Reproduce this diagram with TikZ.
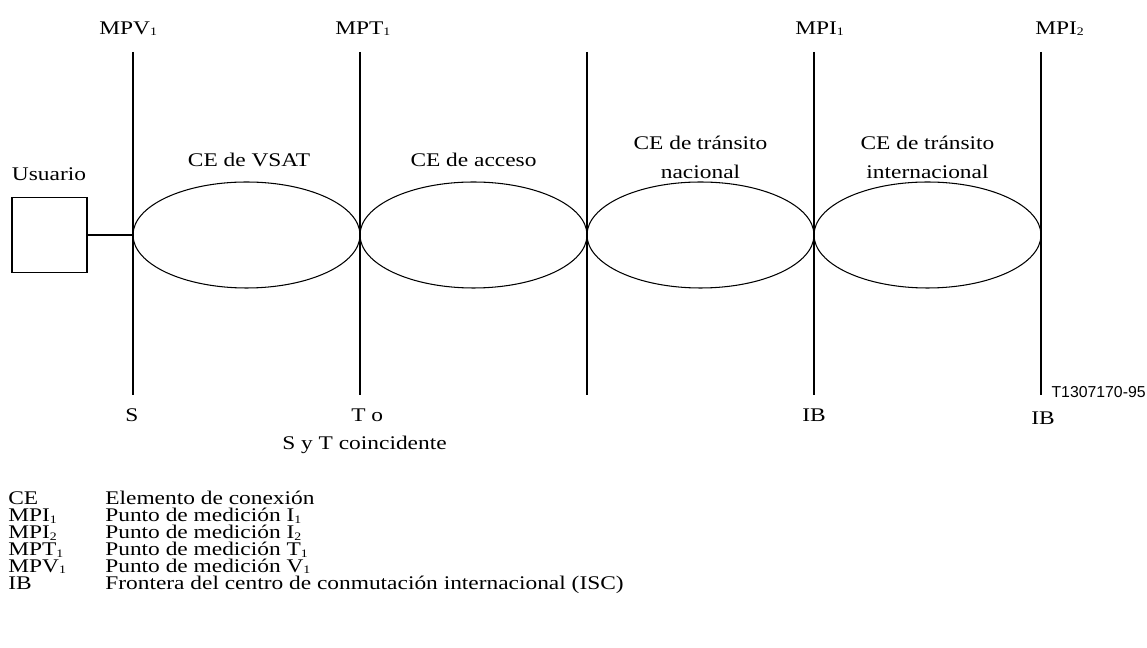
\documentclass[tikz,border=0pt]{standalone}
\usepackage{fontspec}
\setmainfont{Liberation Serif}[FakeStretch=1.21]
\newfontfamily\figcodefont{Liberation Sans}
\newcommand\subidx[1]{\raisebox{-0.15ex}{\fontsize{6.5}{7}\selectfont#1}}
\usetikzlibrary{shapes.geometric}
\tikzset{
  cebox/.style={draw, line width=0.6pt, ellipse, minimum width=4.54cm, minimum height=2.12cm, inner sep=0pt},
  mpline/.style={draw, line width=1.1pt},
  txt/.style={inner sep=0pt, font=\fontsize{11}{13}\selectfont},
}
\begin{document}
\begin{tikzpicture}
    \useasboundingbox (0,0) rectangle (22.94,12.96);
    % puntos de medicion
    \coordinate (mpv-t) at (2.66,11.92);  \coordinate (mpv-b) at (2.66,5.06);
    \coordinate (mpt-t) at (7.20,11.92);  \coordinate (mpt-b) at (7.20,5.06);
    \coordinate (mpn-t) at (11.74,11.92); \coordinate (mpn-b) at (11.74,5.06);
    \coordinate (mpi1-t) at (16.28,11.92); \coordinate (mpi1-b) at (16.28,5.06);
    \coordinate (mpi2-t) at (20.82,11.92); \coordinate (mpi2-b) at (20.82,5.06);
    \foreach \p in {mpv,mpt,mpn,mpi1,mpi2}
      \draw[mpline] (\p-t) -- (\p-b);
    \node[txt, anchor=base west] (mpv) at (1.98,12.27) {MPV\subidx{1}};
    \node[txt, anchor=base west] (mpt) at (6.70,12.27) {MPT\subidx{1}};
    \node[txt, anchor=base west] (mpi1) at (15.90,12.27) {MPI\subidx{1}};
    \node[txt, anchor=base west] (mpi2) at (20.70,12.27) {MPI\subidx{2}};
    % elementos de conexion
    \node[cebox] (vsat) at (4.93,8.26) {};
    \node[cebox] (acceso) at (9.47,8.26) {};
    \node[cebox] (nacional) at (14.01,8.26) {};
    \node[cebox] (internacional) at (18.55,8.26) {};
    \node[txt, anchor=base] (vsat-l) at (4.98,9.63) {CE de VSAT};
    \node[txt, anchor=base] (acceso-l) at (9.47,9.63) {CE de acceso};
    \node[txt, anchor=base] (nacional-l1) at (14.01,9.96) {CE de tránsito};
    \node[txt, anchor=base] (nacional-l2) at (14.01,9.38) {nacional};
    \node[txt, anchor=base] (internacional-l1) at (18.55,9.96) {CE de tránsito};
    \node[txt, anchor=base] (internacional-l2) at (18.55,9.38) {internacional};
    % usuario
    \node[draw, line width=0.6pt, minimum width=1.5cm, minimum height=1.5cm] (usuario) at (0.99,8.26) {};
    \node[txt, anchor=base] (usuario-l) at (0.98,9.35) {Usuario};
    \draw[line width=1.1pt] (usuario.east) -- (vsat.west);
    % referencias
    \node[txt, anchor=base] (s) at (2.64,4.53) {S};
    \node[txt, anchor=base west] (to) at (7.02,4.53) {T o};
    \node[txt, anchor=base] (syt) at (7.29,3.97) {S y T coincidente};
    \node[txt, anchor=base] (ib1) at (16.28,4.53) {IB};
    \node[txt, anchor=base] (ib2) at (20.86,4.47) {IB};
    \node[inner sep=0pt, anchor=base east, font=\figcodefont\fontsize{9}{10}\selectfont] (code) at (22.92,5.00) {T1307170-95};
    % leyenda
    \foreach \abbr/\desc [count=\i] in {CE/Elemento de conexión,
        MPI\subidx{1}/Punto de medición I\subidx{1},
        MPI\subidx{2}/Punto de medición I\subidx{2},
        MPT\subidx{1}/Punto de medición T\subidx{1},
        MPV\subidx{1}/Punto de medición V\subidx{1},
        IB/Frontera del centro de conmutación internacional (ISC)} {
      \pgfmathsetmacro\y{2.86-0.338*(\i-1)}
      \node[txt, anchor=base west] (abbr-\i) at (0.16,\y) {\abbr};
      \node[txt, anchor=base west] (desc-\i) at (2.10,\y) {\desc};
    }
\end{tikzpicture}
\end{document}
